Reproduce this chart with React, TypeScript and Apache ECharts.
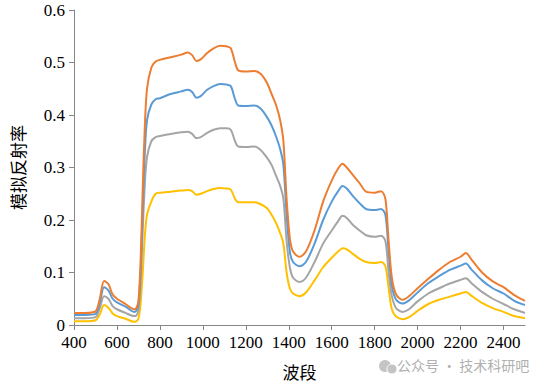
import React, { useEffect, useRef } from "react";
import * as echarts from "echarts";

const wavelengths = [400, 450, 500, 520, 540, 560, 580, 600, 640, 680, 690, 700, 710, 720, 730, 740, 760, 780, 800, 850, 900, 930, 950, 970, 990, 1020, 1050, 1080, 1110, 1130, 1150, 1165, 1200, 1240, 1270, 1300, 1320, 1340, 1360, 1375, 1390, 1405, 1420, 1450, 1480, 1520, 1560, 1600, 1630, 1650, 1670, 1700, 1730, 1760, 1800, 1830, 1850, 1865, 1880, 1900, 1930, 1960, 2000, 2050, 2100, 2150, 2200, 2225, 2250, 2300, 2350, 2400, 2450, 2500];

const seriesOrange = [0.023, 0.023, 0.026, 0.05, 0.084, 0.078, 0.058, 0.05, 0.04, 0.03, 0.032, 0.045, 0.12, 0.26, 0.38, 0.45, 0.49, 0.502, 0.505, 0.51, 0.515, 0.519, 0.514, 0.503, 0.506, 0.518, 0.527, 0.532, 0.531, 0.527, 0.5, 0.485, 0.483, 0.484, 0.478, 0.46, 0.44, 0.42, 0.39, 0.35, 0.24, 0.165, 0.14, 0.13, 0.14, 0.18, 0.235, 0.275, 0.298, 0.307, 0.3, 0.285, 0.27, 0.254, 0.252, 0.255, 0.24, 0.16, 0.09, 0.058, 0.048, 0.055, 0.07, 0.088, 0.105, 0.12, 0.13, 0.137, 0.125, 0.1, 0.083, 0.072, 0.057, 0.046];
const seriesBlue = [0.019, 0.019, 0.021, 0.042, 0.072, 0.066, 0.05, 0.043, 0.035, 0.025, 0.027, 0.038, 0.1, 0.22, 0.33, 0.39, 0.42, 0.43, 0.432, 0.44, 0.445, 0.448, 0.444, 0.433, 0.436, 0.448, 0.455, 0.459, 0.458, 0.455, 0.43, 0.418, 0.417, 0.418, 0.412, 0.395, 0.38, 0.36, 0.335, 0.305, 0.21, 0.14, 0.12, 0.112, 0.12, 0.155, 0.2, 0.235, 0.255, 0.265, 0.26, 0.245, 0.232, 0.221, 0.219, 0.221, 0.21, 0.14, 0.075, 0.048, 0.041, 0.047, 0.062, 0.08, 0.093, 0.105, 0.113, 0.117, 0.106, 0.085, 0.07, 0.06, 0.046, 0.038];
const seriesGray = [0.013, 0.013, 0.015, 0.032, 0.055, 0.05, 0.036, 0.03, 0.023, 0.017, 0.018, 0.028, 0.08, 0.18, 0.27, 0.32, 0.35, 0.358, 0.36, 0.364, 0.367, 0.368, 0.364, 0.356, 0.358, 0.366, 0.372, 0.375, 0.375, 0.372, 0.35, 0.34, 0.339, 0.34, 0.333, 0.318, 0.305, 0.285, 0.265, 0.24, 0.16, 0.11, 0.09, 0.082, 0.09, 0.12, 0.155, 0.18, 0.198, 0.208, 0.204, 0.19, 0.18, 0.171, 0.168, 0.17, 0.16, 0.1, 0.055, 0.032, 0.025, 0.03, 0.045, 0.06, 0.07, 0.079, 0.086, 0.089, 0.08, 0.063, 0.05, 0.04, 0.03, 0.023];
const seriesYellow = [0.007, 0.007, 0.009, 0.02, 0.038, 0.033, 0.022, 0.017, 0.012, 0.006, 0.007, 0.012, 0.04, 0.1, 0.17, 0.21, 0.235, 0.25, 0.252, 0.254, 0.256, 0.257, 0.255, 0.248, 0.25, 0.255, 0.259, 0.261, 0.26, 0.258, 0.24, 0.234, 0.234, 0.234, 0.23, 0.222, 0.21, 0.195, 0.175, 0.155, 0.1, 0.07, 0.06, 0.055, 0.062, 0.085, 0.11, 0.128, 0.14, 0.146, 0.144, 0.135, 0.126, 0.12, 0.118, 0.12, 0.112, 0.07, 0.03, 0.016, 0.011, 0.015, 0.027, 0.04, 0.048, 0.054, 0.06, 0.063, 0.056, 0.042, 0.032, 0.025, 0.017, 0.013];

const xTicks = [400, 600, 800, 1000, 1200, 1400, 1600, 1800, 2000, 2200, 2400];

const FONT = "serif";
const CJK = "Noto Sans CJK SC";

export default function App() {
  const ref = useRef<HTMLDivElement>(null);
  useEffect(() => {
    if (!ref.current) return;
    const chart = echarts.init(ref.current, undefined, { renderer: "svg" });
    const mk = (name: string, vals: number[], color: string) => ({
      name,
      type: "line",
      data: wavelengths.map((w, i) => [w, vals[i]]),
      smooth: 0.3,
      showSymbol: false,
      symbol: "none",
      lineStyle: { color, width: 2 },
      itemStyle: { color },
    });
    chart.setOption({
      animation: false,
      textStyle: { fontFamily: FONT },
      grid: { left: 74, right: 28, top: 10, bottom: 63, containLabel: false },
      xAxis: {
        type: "value",
        min: 400,
        max: 2500,
        interval: 200,
        name: "波段",
        nameLocation: "middle",
        nameGap: 38,
        nameTextStyle: { fontFamily: CJK, fontSize: 17, color: "#000" },
        axisLine: { lineStyle: { color: "#868686", width: 1 } },
        axisTick: { show: true, length: 5, lineStyle: { color: "#868686" }, customValues: xTicks },
        axisLabel: {
          color: "#000",
          fontFamily: FONT,
          fontSize: 17,
          margin: 9,
          customValues: xTicks,
          formatter: (v: number) => String(v),
        },
        splitLine: { show: false },
      },
      yAxis: {
        type: "value",
        min: 0,
        max: 0.6,
        interval: 0.1,
        name: "模拟反射率",
        nameLocation: "middle",
        nameGap: 48,
        nameTextStyle: { fontFamily: CJK, fontSize: 17, color: "#000" },
        axisLine: { show: true, lineStyle: { color: "#868686", width: 1 } },
        axisTick: { show: true, length: 5, lineStyle: { color: "#868686" } },
        axisLabel: {
          color: "#000",
          fontFamily: FONT,
          fontSize: 17,
          margin: 9,
          formatter: (v: number) => String(Math.round(v * 10) / 10),
        },
        splitLine: { show: false },
      },
      graphic: [
        {
          type: "text",
          left: 397,
          top: 358,
          style: { text: "公众号 · 技术科研吧", fill: "#b0b0b0", fontSize: 14, fontFamily: CJK },
        },
        { type: "circle", shape: { cx: 385, cy: 366, r: 6 }, style: { fill: "#c4c4c4" } },
        { type: "circle", shape: { cx: 392, cy: 369, r: 5 }, style: { fill: "#c4c4c4", stroke: "#fff", lineWidth: 1 } },
      ],
      series: [
        mk("s4", seriesYellow, "#FFC000"),
        mk("s3", seriesGray, "#A5A5A5"),
        mk("s2", seriesBlue, "#5B9BD5"),
        mk("s1", seriesOrange, "#ED7D31"),
      ],
    });
    return () => chart.dispose();
  }, []);
  return <div ref={ref} style={{ position: "absolute", left: 0, top: 0, width: 553, height: 388 }} />;
}
